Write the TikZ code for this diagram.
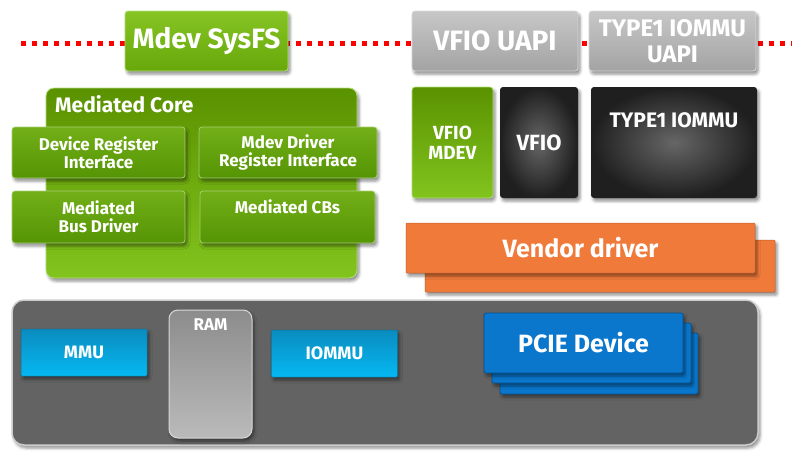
\documentclass[tikz,border=0pt]{standalone}
\usepackage{fontspec}
\setmainfont{Fira Sans}
\usetikzlibrary{shadows.blur}

\definecolor{sfstop}{HTML}{86C424}
\definecolor{sfsbot}{HTML}{68A80A}
\definecolor{coretop}{HTML}{5A9200}
\definecolor{corebot}{HTML}{82C41E}
\definecolor{innertop}{HTML}{72AF18}
\definecolor{innerbot}{HTML}{559404}
\definecolor{vendor}{HTML}{F07A3A}
\definecolor{mmutop}{HTML}{0A8CBF}
\definecolor{mmubot}{HTML}{05B8F2}
\definecolor{pcie}{HTML}{0A77CC}

\begin{document}
\begin{tikzpicture}[x=1pt,y=-1pt,
        wh/.style 2 args={minimum width=#1pt,minimum height=#2pt},
        box/.style={rectangle,rounded corners=3pt,inner sep=0pt,align=center,text=white,
            blur shadow={shadow xshift=2pt,shadow yshift=-3pt,shadow blur radius=3pt,shadow opacity=45}},
        greenbox/.style={box,top color=innertop,bottom color=innerbot,draw=innertop!60!white,line width=0.8pt},
        corebox/.style={box,rounded corners=8pt,top color=coretop,bottom color=corebot,draw=corebot!60!white,line width=0.8pt},
        uapibox/.style={box,top color=black!22,bottom color=black!36,draw=white!85!black,line width=0.8pt},
        darkbox/.style={box,inner color=black!60,outer color=black!88},
        orangebox/.style={box,fill=vendor,draw=vendor!80!black,line width=0.5pt,rounded corners=1pt},
        cyanbox/.style={box,rounded corners=1pt,top color=mmutop,bottom color=mmubot,draw=mmutop!80!black,line width=0.5pt},
        bluebox/.style={box,rounded corners=2pt,fill=pcie,draw=pcie!70!black,line width=0.8pt},
        title/.style={text=white,inner sep=0pt,font=\bfseries\fontsize{#1}{#1}\selectfont}]

    \useasboundingbox (0,0) rectangle (802,455);

    % dotted user/kernel border
    \coordinate (lineL) at (21,43);
    \coordinate (lineR) at (792,43);
    \draw [red,line width=5pt,dash pattern=on 5pt off 6pt] (lineL) -- (lineR);

    \begin{scope}[every node/.style={font=\bfseries\fontsize{28}{30}\selectfont}]
        \node [box,wh={163}{60},top color=sfstop,bottom color=sfsbot,draw=sfstop!60!white,line width=0.8pt] (sysfs) at (206.5,41) {Mdev SysFS};
        \node [uapibox,wh={166}{60}] (vfiouapi) at (495,41) {VFIO UAPI};
        \node [uapibox,wh={167}{60},font=\bfseries\fontsize{24}{26}\selectfont] (typeuapi) at (672.5,41) {TYPE1 IOMMU\\UAPI};
    \end{scope}

    % mediated core
    \node [corebox,wh={311}{190}] (core) at (201.5,183) {};
    \node [title=21,anchor=base west] (coretitle) at (55,112) {Mediated Core};

    \begin{scope}[every node/.style={greenbox,font=\bfseries\fontsize{17}{18}\selectfont}]
        \node [wh={173}{51}] (devreg) at (98.5,152.5) {Device Register\\Interface};
        \node [wh={178}{51}] (drvreg) at (288,152.5) {Mdev Driver\\Register Interface};
        \node [wh={173}{52}] (busdrv) at (98.5,217) {Mediated\\Bus Driver};
        \node [wh={175}{52}] (cbs) at (287.5,217) {};
    \end{scope}
    \node [title=17,anchor=base] (cbstext) at (287.5,213) {Mediated CBs};

    % vfio stack
    \node [corebox,rounded corners=3pt,wh={81}{111},font=\bfseries\fontsize{19}{20}\selectfont] (vfiomdev) at (452.5,142.5) {VFIO\\MDEV};
    \node [darkbox,wh={78}{111},font=\bfseries\fontsize{22}{22}\selectfont] (vfio) at (539,142.5) {VFIO};
    \node [darkbox,wh={166}{111}] (type1) at (674,142.5) {};
    \node [title=21,anchor=base] (type1text) at (674,127) {TYPE1 IOMMU};

    \node [orangebox,wh={350}{52}] (vendorback) at (600,266) {};
    \node [orangebox,wh={349}{50},font=\bfseries\fontsize{25}{26}\selectfont] (vendor) at (580.5,248) {Vendor driver};

    % hardware
    \node [box,rounded corners=12pt,wh={746}{145},fill=black!61,draw=black!20,line width=1.5pt] (hw) at (385,372.5) {};
    \begin{scope}[every node/.style={cyanbox,wh={126}{47},font=\bfseries\fontsize{18}{18}\selectfont}]
        \node (mmu) at (84,352.5) {MMU};
        \node (iommu) at (334.5,353.5) {IOMMU};
    \end{scope}
    \node [box,rounded corners=9pt,wh={83}{128},top color=black!45,bottom color=black!27,draw=black!15,line width=1pt] (ram) at (210.5,374) {};
    \node [title=17,anchor=base] (ramtext) at (210.5,330) {RAM};

    \node [bluebox,wh={198}{61}] (pcie3) at (599,363.5) {};
    \node [bluebox,wh={199}{60}] (pcie2) at (591.5,353) {};
    \node [bluebox,wh={199}{60},font=\bfseries\fontsize{25}{26}\selectfont] (pcie1) at (583.5,343) {PCIE Device};

\end{tikzpicture}
\end{document}
